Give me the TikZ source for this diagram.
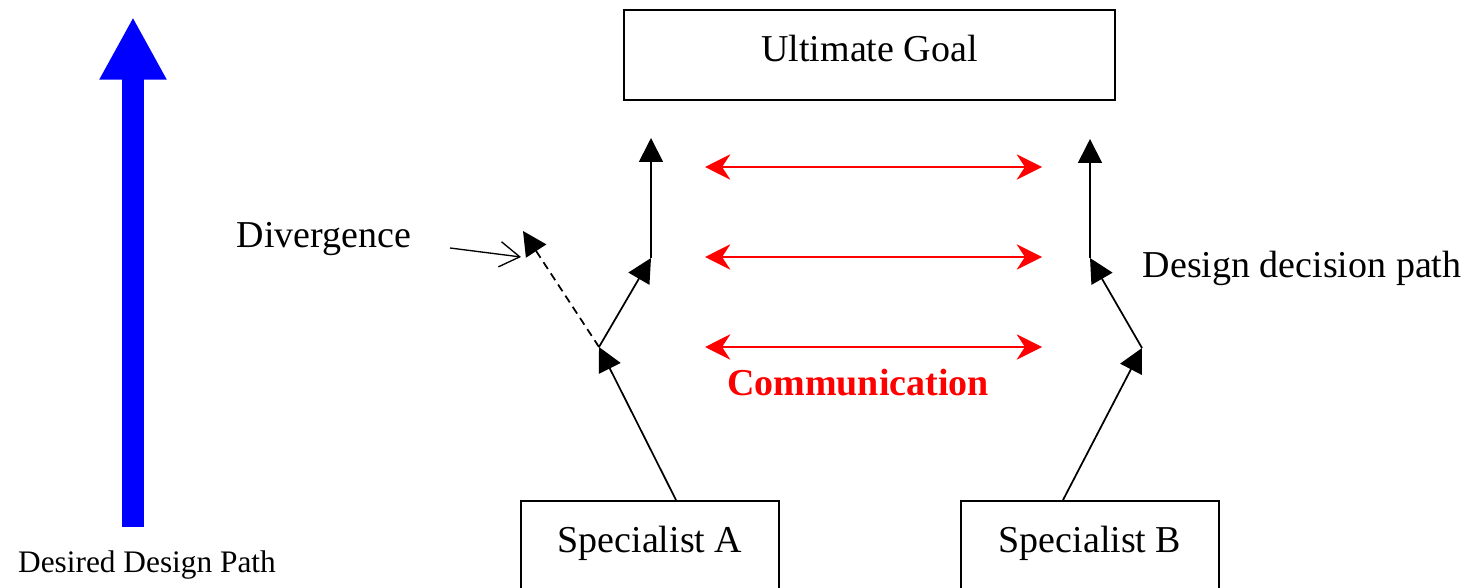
\documentclass[tikz,border=0pt]{standalone}
\usepackage{fontspec}
\setmainfont{Liberation Serif}
\usetikzlibrary{arrows.meta}

\tikzset{
  bigfont/.style={font=\fontsize{28.5}{30}\selectfont},
  goalbox/.style={draw, line width=1.4pt, bigfont, minimum width=368pt,
    minimum height=67.5pt, text height=18pt, text depth=7.5pt},
  specbox/.style={draw, line width=1.4pt, bigfont, anchor=north,
    minimum width=194pt, inner ysep=0pt, text height=39pt, text depth=60pt},
  decision/.style={line width=1.3pt, -{Triangle[length=18pt, width=18pt]}},
  talk/.style={red, line width=1.1pt,
    {Stealth[length=19pt, width=19pt]}-{Stealth[length=19pt, width=19pt]}},
  pointer/.style={line width=1pt, -{Straight Barb[length=15pt, width=19pt]}},
}

\begin{document}
\begin{tikzpicture}[x=0.75pt, y=-0.75pt]
  \useasboundingbox (0,0) rectangle (1466,588);

  \node[goalbox] (goal) at (869.5,55) {Ultimate Goal};
  \node[specbox] (specA) at (650,500) {Specialist A};
  \node[specbox] (specB) at (1090,500) {Specialist B};

  \coordinate (pathbot) at (133,527);
  \coordinate (pathtop) at (133,17);
  \draw[blue, line width=16.5pt, -{Triangle[length=47pt, width=47pt]}]
    (pathbot) -- (pathtop);
  \node[font=\fontsize{23.5}{25}\selectfont, anchor=base] (desired)
    at (147,572) {Desired Design Path};

  \coordinate (a0) at (676,500);
  \coordinate (a1) at (599,347);
  \coordinate (a2) at (651,258);
  \coordinate (a3) at (651,138);
  \coordinate (dv) at (523,231);
  \draw[decision] (a0) -- (a1);
  \draw[decision] (a1) -- (a2);
  \draw[decision] (a2) -- (a3);
  \draw[decision, dash pattern=on 6pt off 4pt] (a1) -- (dv);

  \coordinate (b0) at (1063,500);
  \coordinate (b1) at (1142,348);
  \coordinate (b2) at (1090,258);
  \coordinate (b3) at (1090,139);
  \draw[decision] (b0) -- (b1);
  \draw[decision] (b1) -- (b2);
  \draw[decision] (b2) -- (b3);

  \node[bigfont, anchor=base west] (divtext) at (232,247) {Divergence};
  \coordinate (d0) at (450,248);
  \coordinate (d1) at (521,257);
  \draw[pointer] (d0) -- (d1);

  \node[bigfont, anchor=base west] (pathtext) at (1138,277) {Design decision path};

  \foreach \y [count=\i] in {167,257,347} {
    \coordinate (cl\i) at (705,\y);
    \coordinate (cr\i) at (1042,\y);
    \draw[talk] (cl\i) -- (cr\i);
  }
  \node[bigfont, red, anchor=base, font=\fontsize{28.5}{30}\selectfont\bfseries]
    (comm) at (858,395) {Communication};
\end{tikzpicture}
\end{document}
